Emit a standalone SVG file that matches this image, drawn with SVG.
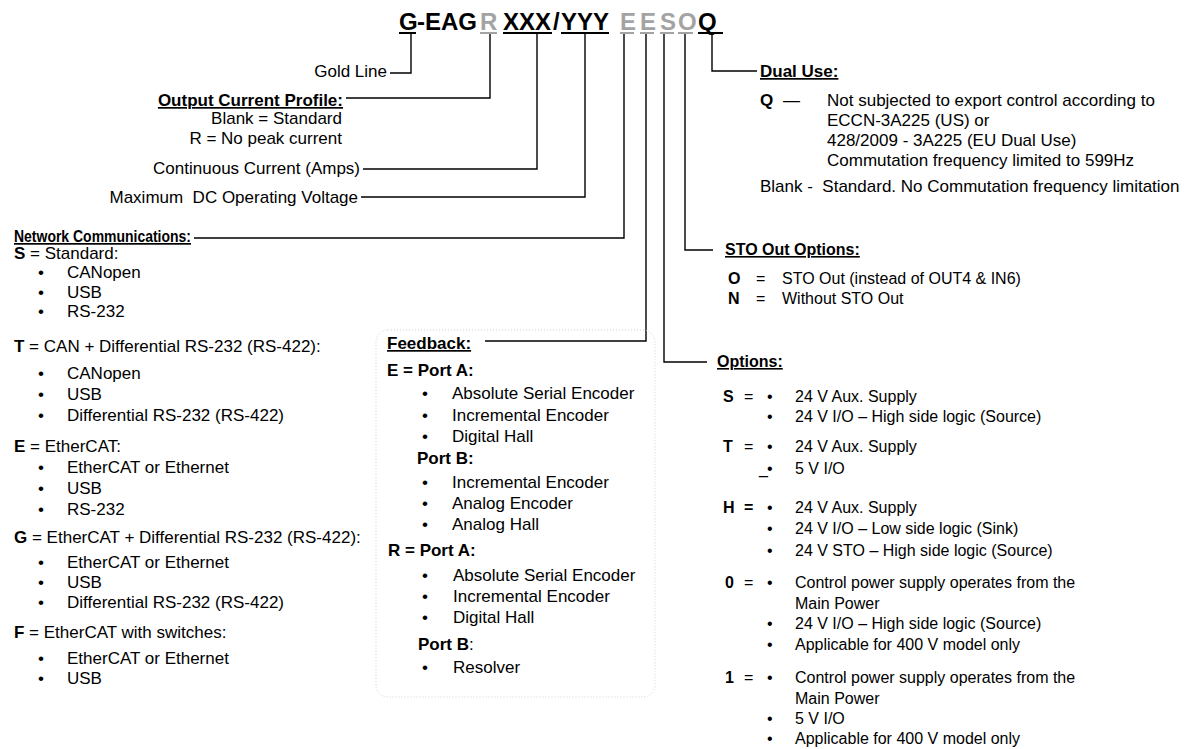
<svg xmlns="http://www.w3.org/2000/svg" width="1200" height="749" viewBox="0 0 1200 749">
<style>
text{font-family:"Liberation Sans",Arial,sans-serif;fill:#000}
.t{font-size:24px;font-weight:bold}
.g{fill:#a3a3a3}
.l{font-size:17px}
.m{font-size:16px}
.b{font-weight:bold}
.u{text-decoration:underline}
.e{text-anchor:end}
.c{fill:none;stroke:#000;stroke-width:1.4}
</style>
<rect width="1200" height="749" fill="#fff"/>
<g id="title">
<text class="t" y="30"><tspan x="399">G</tspan><tspan x="417">-EAG</tspan><tspan x="480" class="g">R</tspan><tspan x="503">XXX</tspan><tspan x="553">/</tspan><tspan x="561">YYY</tspan><tspan x="620" class="g">E</tspan><tspan x="640" class="g">E</tspan><tspan x="660" class="g">S</tspan><tspan x="678" class="g">O</tspan><tspan x="698">Q</tspan></text>
<line x1="399" y1="33" x2="416" y2="33" stroke="#000" stroke-width="2"/>
<line x1="480" y1="33" x2="497" y2="33" stroke="#a3a3a3" stroke-width="2"/>
<line x1="503" y1="33" x2="552" y2="33" stroke="#000" stroke-width="2"/>
<line x1="561" y1="33" x2="609" y2="33" stroke="#000" stroke-width="2"/>
<line x1="620" y1="33" x2="634" y2="33" stroke="#a3a3a3" stroke-width="2"/>
<line x1="640" y1="33" x2="654" y2="33" stroke="#a3a3a3" stroke-width="2"/>
<line x1="660" y1="33" x2="674" y2="33" stroke="#a3a3a3" stroke-width="2"/>
<line x1="678" y1="33" x2="693" y2="33" stroke="#a3a3a3" stroke-width="2"/>
<line x1="698" y1="33" x2="723" y2="33" stroke="#000" stroke-width="2"/>
</g>
<g id="connectors">
<path class="c" d="M411,34 V73 H390"/>
<path class="c" d="M490,34 V98 H346"/>
<path class="c" d="M537,34 V169 H363"/>
<path class="c" d="M585,34 V197 H361"/>
<path class="c" d="M624,34 V238 H194"/>
<path class="c" d="M646,34 V341 H485"/>
<path class="c" d="M664,34 V362 H707"/>
<path class="c" d="M685,34 V250 H713"/>
<path class="c" d="M712,34 V71 H757"/>
</g>
<g id="gold-line"><text class="l e" x="387" y="77">Gold Line</text></g>
<g id="output-current">
<text class="l e b u" x="343" y="106">Output Current Profile:</text>
<text class="l e" x="342" y="124">Blank = Standard</text>
<text class="l e" x="342" y="144">R = No peak current</text>
</g>
<g id="continuous-current"><text class="l e" x="360" y="174">Continuous Current (Amps)</text></g>
<g id="max-voltage"><text class="l e" x="358" y="203" xml:space="preserve">Maximum  DC Operating Voltage</text></g>
<g id="network">
<text class="l b u" x="14" y="242" textLength="177" lengthAdjust="spacingAndGlyphs">Network Communications:</text>
<text class="l" x="14" y="259"><tspan class="b">S</tspan> = Standard:</text>
<text class="l" x="38" y="278">•</text><text class="l" x="67" y="278">CANopen</text>
<text class="l" x="38" y="298">•</text><text class="l" x="67" y="298">USB</text>
<text class="l" x="38" y="317">•</text><text class="l" x="67" y="317">RS-232</text>
<text class="l" x="14" y="352"><tspan class="b">T</tspan> = CAN + Differential RS-232 (RS-422):</text>
<text class="l" x="38" y="379">•</text><text class="l" x="67" y="379">CANopen</text>
<text class="l" x="38" y="400">•</text><text class="l" x="67" y="400">USB</text>
<text class="l" x="38" y="421">•</text><text class="l" x="67" y="421">Differential RS-232 (RS-422)</text>
<text class="l" x="14" y="452"><tspan class="b">E</tspan> = EtherCAT:</text>
<text class="l" x="38" y="473">•</text><text class="l" x="67" y="473">EtherCAT or Ethernet</text>
<text class="l" x="38" y="494">•</text><text class="l" x="67" y="494">USB</text>
<text class="l" x="38" y="515">•</text><text class="l" x="67" y="515">RS-232</text>
<text class="l" x="14" y="543"><tspan class="b">G</tspan> = EtherCAT + Differential RS-232 (RS-422):</text>
<text class="l" x="38" y="568">•</text><text class="l" x="67" y="568">EtherCAT or Ethernet</text>
<text class="l" x="38" y="588">•</text><text class="l" x="67" y="588">USB</text>
<text class="l" x="38" y="608">•</text><text class="l" x="67" y="608">Differential RS-232 (RS-422)</text>
<text class="l" x="14" y="638"><tspan class="b">F</tspan> = EtherCAT with switches:</text>
<text class="l" x="38" y="664">•</text><text class="l" x="67" y="664">EtherCAT or Ethernet</text>
<text class="l" x="38" y="684">•</text><text class="l" x="67" y="684">USB</text>
</g>
<g id="feedback">
<rect x="376" y="330" width="279" height="367" rx="12" fill="none" stroke="#cfcfcf" stroke-width="1" stroke-dasharray="1 2"/>
<text class="l b u" x="387" y="349">Feedback:</text>
<text class="l b" x="387" y="376">E = Port A:</text>
<text class="l" x="422" y="399">•</text><text class="l" x="452" y="399">Absolute Serial Encoder</text>
<text class="l" x="422" y="421">•</text><text class="l" x="452" y="421">Incremental Encoder</text>
<text class="l" x="422" y="442">•</text><text class="l" x="452" y="442">Digital Hall</text>
<text class="l b" x="417" y="464">Port B:</text>
<text class="l" x="422" y="488">•</text><text class="l" x="452" y="488">Incremental Encoder</text>
<text class="l" x="422" y="509">•</text><text class="l" x="452" y="509">Analog Encoder</text>
<text class="l" x="422" y="530">•</text><text class="l" x="452" y="530">Analog Hall</text>
<text class="l b" x="388" y="556">R = Port A:</text>
<text class="l" x="422" y="581">•</text><text class="l" x="453" y="581">Absolute Serial Encoder</text>
<text class="l" x="422" y="602">•</text><text class="l" x="453" y="602">Incremental Encoder</text>
<text class="l" x="422" y="623">•</text><text class="l" x="453" y="623">Digital Hall</text>
<text class="l" x="418" y="650"><tspan class="b">Port B</tspan>:</text>
<text class="l" x="422" y="673">•</text><text class="l" x="453" y="673">Resolver</text>
</g>
<g id="dual-use">
<text class="l b u" x="760" y="77">Dual Use:</text>
<text class="l b" x="760" y="106">Q</text><text class="l" x="783" y="106">—</text>
<text class="l" x="827" y="106">Not subjected to export control according to</text>
<text class="l" x="827" y="126">ECCN-3A225 (US) or</text>
<text class="l" x="827" y="146">428/2009 - 3A225 (EU Dual Use)</text>
<text class="l" x="827" y="166">Commutation frequency limited to 599Hz</text>
<text class="l" x="760" y="192" xml:space="preserve">Blank -  Standard. No Commutation frequency limitation</text>
</g>
<g id="sto-out">
<text class="m b u" x="725" y="255">STO Out Options:</text>
<text class="m b" x="728" y="284">O</text><text class="m" x="756" y="284">=</text><text class="m" x="782" y="284">STO Out (instead of OUT4 &amp; IN6)</text>
<text class="m b" x="728" y="304">N</text><text class="m" x="756" y="304">=</text><text class="m" x="782" y="304">Without STO Out</text>
</g>
<g id="options">
<text class="m b u" x="717" y="367">Options:</text>
<text class="m b" x="723" y="402">S</text><text class="m" x="744" y="402">=</text><text class="m" x="767" y="402">•</text><text class="m" x="795" y="402">24 V Aux. Supply</text>
<text class="m" x="767" y="422">•</text><text class="m" x="795" y="422">24 V I/O – High side logic (Source)</text>
<text class="m b" x="723" y="452">T</text><text class="m" x="744" y="452">=</text><text class="m" x="767" y="452">•</text><text class="m" x="795" y="452">24 V Aux. Supply</text>
<text class="m" x="759" y="474">_</text><text class="m" x="767" y="474">•</text><text class="m" x="795" y="474">5 V I/O</text>
<text class="m b" x="723" y="513">H</text><text class="m b" x="744" y="513">=</text><text class="m" x="767" y="513">•</text><text class="m" x="795" y="513">24 V Aux. Supply</text>
<text class="m" x="767" y="534">•</text><text class="m" x="795" y="534">24 V I/O – Low side logic (Sink)</text>
<text class="m" x="767" y="556">•</text><text class="m" x="795" y="556">24 V STO – High side logic (Source)</text>
<text class="m b" x="725" y="588">0</text><text class="m" x="744" y="588">=</text><text class="m" x="767" y="588">•</text><text class="m" x="795" y="588">Control power supply operates from the</text>
<text class="m" x="795" y="609">Main Power</text>
<text class="m" x="767" y="629">•</text><text class="m" x="795" y="629">24 V I/O – High side logic (Source)</text>
<text class="m" x="767" y="650">•</text><text class="m" x="795" y="650">Applicable for 400 V model only</text>
<text class="m b" x="725" y="683">1</text><text class="m" x="744" y="683">=</text><text class="m" x="767" y="683">•</text><text class="m" x="795" y="683">Control power supply operates from the</text>
<text class="m" x="795" y="704">Main Power</text>
<text class="m" x="767" y="724">•</text><text class="m" x="795" y="724">5 V I/O</text>
<text class="m" x="767" y="744">•</text><text class="m" x="795" y="744">Applicable for 400 V model only</text>
</g>
</svg>
